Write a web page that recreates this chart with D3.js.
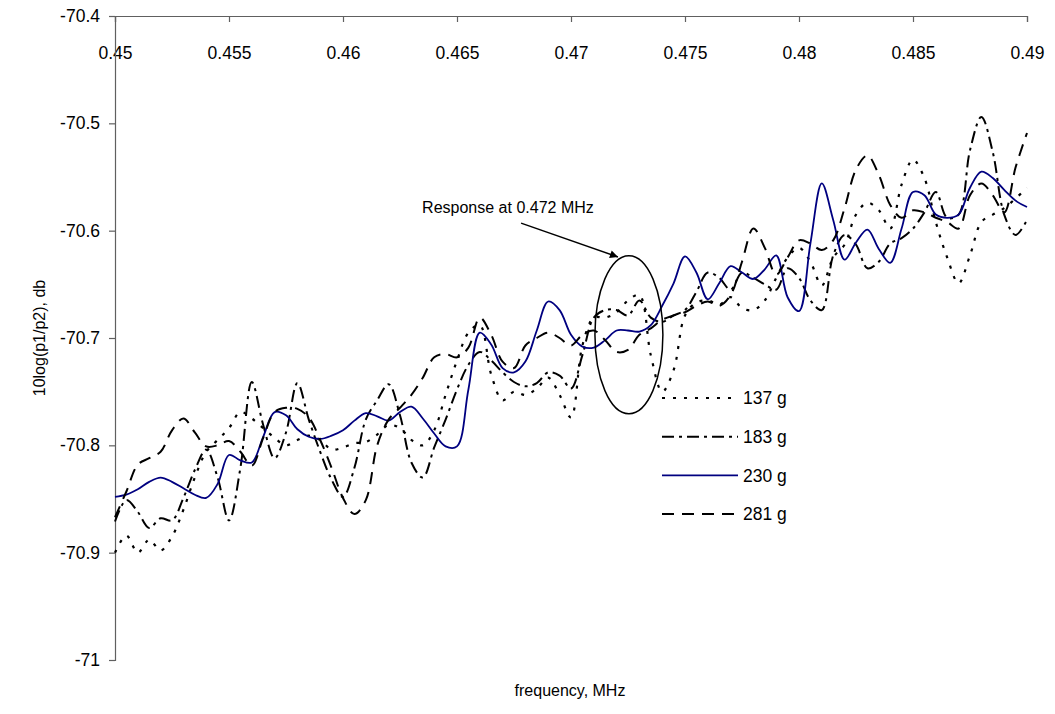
<!DOCTYPE html>
<html>
<head>
<meta charset="utf-8">
<script src="https://cdn.jsdelivr.net/npm/d3@7"></script>
<style>
  body { margin: 0; background: #fff; }
  text { font-family: Arial, "Liberation Sans", sans-serif; }
</style>
</head>
<body>
<svg id="chart" width="1055" height="714"></svg>
<script>
// frequency grid, MHz (step 0.0005)
const freq = d3.range(81).map(i => +(0.45 + i * 0.0005).toFixed(4));

const xTicks = [0.45, 0.455, 0.46, 0.465, 0.47, 0.475, 0.48, 0.485, 0.49];
const yTicks = [-71, -70.9, -70.8, -70.7, -70.6, -70.5, -70.4];

// 10log(p1/p2), db for each load
const s137 = [-70.900,-70.884,-70.900,-70.888,-70.898,-70.885,-70.860,-70.830,-70.806,-70.795,
  -70.784,-70.769,-70.775,-70.784,-70.793,-70.800,-70.795,-70.791,-70.795,-70.804,
  -70.802,-70.798,-70.797,-70.790,-70.781,-70.784,-70.795,-70.800,-70.786,-70.753,
  -70.721,-70.695,-70.688,-70.734,-70.758,-70.750,-70.753,-70.747,-70.737,-70.753,
  -70.774,-70.707,-70.681,-70.681,-70.676,-70.665,-70.660,-70.716,-70.750,-70.730,
  -70.679,-70.667,-70.665,-70.669,-70.662,-70.672,-70.674,-70.665,-70.644,-70.625,
  -70.616,-70.629,-70.651,-70.625,-70.613,-70.585,-70.574,-70.581,-70.598,-70.557,
  -70.534,-70.551,-70.592,-70.625,-70.649,-70.623,-70.592,-70.585,-70.579,-70.570,
  -70.560];
const s183 = [-70.871,-70.851,-70.862,-70.877,-70.868,-70.870,-70.849,-70.823,-70.804,-70.830,
  -70.870,-70.821,-70.741,-70.781,-70.812,-70.788,-70.742,-70.776,-70.806,-70.832,
  -70.848,-70.821,-70.776,-70.758,-70.743,-70.772,-70.816,-70.830,-70.802,-70.776,
  -70.748,-70.725,-70.713,-70.721,-70.732,-70.741,-70.745,-70.742,-70.732,-70.735,
  -70.747,-70.716,-70.681,-70.674,-70.674,-70.679,-70.665,-70.681,-70.685,-70.679,
  -70.674,-70.657,-70.639,-70.644,-70.655,-70.639,-70.644,-70.650,-70.655,-70.635,
  -70.644,-70.665,-70.674,-70.623,-70.604,-70.613,-70.635,-70.629,-70.612,-70.607,
  -70.598,-70.583,-70.564,-70.588,-70.585,-70.525,-70.494,-70.527,-70.585,-70.604,
  -70.590];
const s230 = [-70.848,-70.846,-70.841,-70.834,-70.830,-70.834,-70.840,-70.846,-70.849,-70.836,
  -70.809,-70.814,-70.816,-70.792,-70.769,-70.772,-70.785,-70.792,-70.794,-70.791,
  -70.786,-70.777,-70.770,-70.773,-70.777,-70.769,-70.764,-70.775,-70.789,-70.801,
  -70.801,-70.748,-70.695,-70.706,-70.728,-70.732,-70.722,-70.693,-70.666,-70.674,
  -70.697,-70.708,-70.709,-70.702,-70.693,-70.693,-70.694,-70.688,-70.670,-70.649,
  -70.624,-70.639,-70.664,-70.649,-70.633,-70.639,-70.645,-70.636,-70.623,-70.662,
  -70.675,-70.612,-70.556,-70.590,-70.627,-70.611,-70.599,-70.617,-70.630,-70.598,
  -70.564,-70.567,-70.585,-70.588,-70.585,-70.560,-70.545,-70.551,-70.562,-70.572,
  -70.578];
const s281 = [-70.867,-70.843,-70.818,-70.812,-70.806,-70.786,-70.775,-70.788,-70.801,-70.800,
  -70.796,-70.806,-70.819,-70.793,-70.769,-70.765,-70.766,-70.774,-70.795,-70.821,
  -70.849,-70.864,-70.851,-70.800,-70.776,-70.765,-70.753,-70.737,-70.718,-70.715,
  -70.718,-70.709,-70.681,-70.697,-70.722,-70.728,-70.707,-70.700,-70.695,-70.700,
  -70.707,-70.697,-70.693,-70.702,-70.713,-70.711,-70.697,-70.691,-70.683,-70.679,
  -70.676,-70.670,-70.666,-70.670,-70.660,-70.629,-70.598,-70.616,-70.641,-70.625,
  -70.609,-70.612,-70.618,-70.609,-70.579,-70.543,-70.530,-70.548,-70.576,-70.588,
  -70.581,-70.583,-70.588,-70.592,-70.598,-70.567,-70.556,-70.567,-70.583,-70.541,
  -70.509];

const seriesNames = ["137 g", "183 g", "230 g", "281 g"];
const seriesValues = [s137, s183, s230, s281];

const margin = { top: 16, right: 28, bottom: 54, left: 115 };
const width = 1055 - margin.left - margin.right;
const height = 714 - margin.top - margin.bottom;

const svg = d3.select("#chart");
const g = svg.append("g").attr("transform", `translate(${margin.left},${margin.top})`);

const x = d3.scaleLinear().domain([0.45, 0.49]).range([0, width]);
const y = d3.scaleLinear().domain([-71, -70.4]).range([height, 0]);

const styles = {
  "137 g": { color: "#000", dash: "3,8", w: 2.2 },
  "183 g": { color: "#000", dash: "12,5,3,5", w: 2 },
  "230 g": { color: "#000080", dash: null, w: 1.8 },
  "281 g": { color: "#000", dash: "12,8", w: 2 }
};

// axes
const fmt = d => String(+d.toFixed(3));

const xAxis = g.append("g")
  .call(d3.axisBottom(x).tickValues(xTicks).tickSize(6).tickPadding(25).tickFormat(fmt));
const yAxis = g.append("g")
  .call(d3.axisLeft(y).tickValues(yTicks).tickSize(6).tickPadding(9).tickFormat(fmt));

[xAxis, yAxis].forEach(a => {
  a.selectAll("path, line").attr("stroke", "#606060").attr("stroke-width", 1.2);
  a.selectAll("text").attr("fill", "#000").style("font-size", "17.5px")
    .style("font-family", "Arial, 'Liberation Sans', sans-serif");
});

// lines
const line = d3.line()
  .x((d, i) => x(freq[i]))
  .y(d => y(d))
  .curve(d3.curveCatmullRom.alpha(0.5));

seriesNames.forEach((name, k) => {
  const st = styles[name];
  g.append("path")
    .datum(seriesValues[k])
    .attr("fill", "none")
    .attr("stroke", st.color)
    .attr("stroke-width", st.w)
    .attr("stroke-dasharray", st.dash)
    .attr("d", line);
});

// annotation
const ann = { textF: 0.46347, textV: -70.584, fromF: 0.46781, fromV: -70.593,
              toF: 0.47206, toV: -70.6245, cF: 0.47254, cV: -70.697, rF: 0.00149, rV: 0.0736 };

svg.append("defs").append("marker")
  .attr("id", "arr").attr("viewBox", "0 0 10 10").attr("refX", 10).attr("refY", 5)
  .attr("markerWidth", 12).attr("markerHeight", 8).attr("markerUnits", "userSpaceOnUse")
  .attr("orient", "auto")
  .append("path").attr("d", "M0,0L10,5L0,10Z").attr("fill", "#000");

g.append("text")
  .attr("x", x(ann.textF)).attr("y", y(ann.textV))
  .style("font-size", "16px").text("Response at 0.472 MHz");

g.append("line")
  .attr("x1", x(ann.fromF)).attr("y1", y(ann.fromV))
  .attr("x2", x(ann.toF)).attr("y2", y(ann.toV))
  .attr("stroke", "#000").attr("stroke-width", 1.5)
  .attr("marker-end", "url(#arr)");

g.append("ellipse")
  .attr("cx", x(ann.cF)).attr("cy", y(ann.cV))
  .attr("rx", x(ann.cF + ann.rF) - x(ann.cF))
  .attr("ry", y(ann.cV - ann.rV) - y(ann.cV))
  .attr("fill", "none").attr("stroke", "#000").attr("stroke-width", 1.5);

// legend
const legend = svg.selectAll(".legend")
  .data(seriesNames)
  .enter().append("g")
  .attr("class", "legend")
  .attr("transform", (d, i) => `translate(662, ${398 + i * 38.7})`);

legend.append("line")
  .attr("x1", 0).attr("x2", 76).attr("y1", 0).attr("y2", 0)
  .attr("stroke", d => styles[d].color)
  .attr("stroke-width", d => styles[d].w)
  .attr("stroke-dasharray", d => styles[d].dash);

legend.append("text")
  .attr("x", 81).attr("y", 0).attr("dy", "0.35em")
  .style("font-size", "17.5px")
  .text(d => d);

// axis titles
svg.append("text")
  .attr("x", 570).attr("y", 696)
  .attr("text-anchor", "middle").style("font-size", "16px")
  .text("frequency, MHz");

svg.append("text")
  .attr("transform", "translate(45,338) rotate(-90)")
  .attr("text-anchor", "middle").style("font-size", "16px")
  .text("10log(p1/p2), db");
</script>
</body>
</html>
